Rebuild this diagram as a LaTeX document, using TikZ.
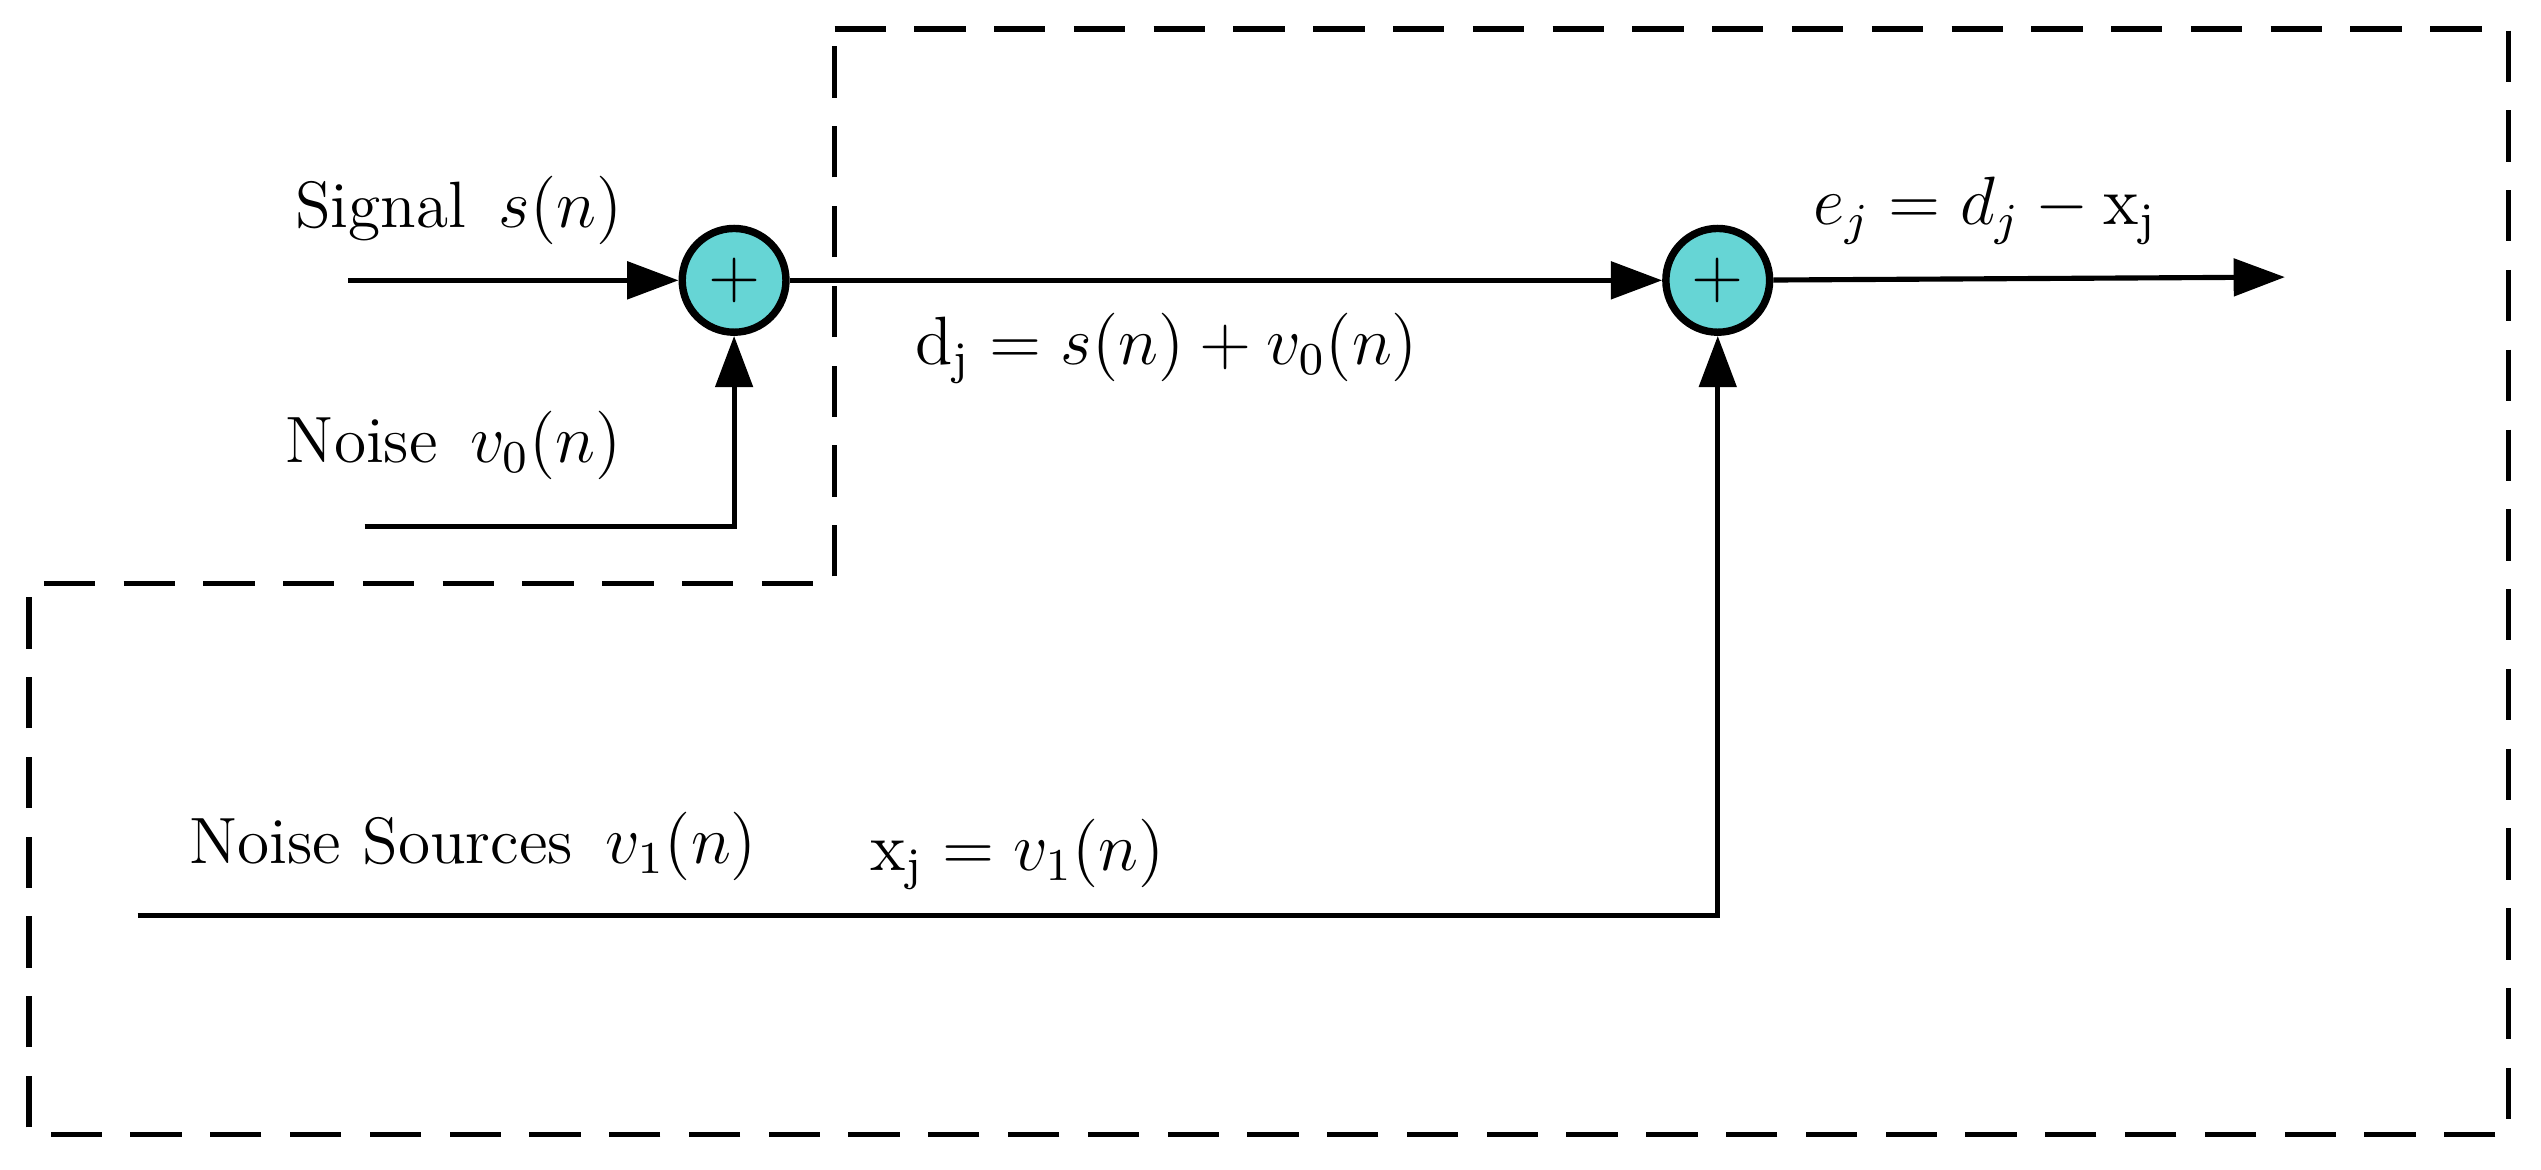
\documentclass[tikz,border=0pt]{standalone}
\usetikzlibrary{arrows.meta}
\begin{document}
\begin{tikzpicture}[x=0.01cm,y=-0.01cm,
  wire/.style={line width=0.9pt},
  arr/.style={wire,-{Triangle[length=9pt,width=6.5pt]}},
  sum/.style={circle,draw,line width=1.3pt,fill=teal!55!cyan!60!white,minimum size=0.64cm,inner sep=0pt,font=\fontsize{12}{12}\selectfont},
  lbl/.style={font=\fontsize{11.5}{13}\selectfont}]
\useasboundingbox (0,0) rectangle (1568,722);
\draw[line width=1pt,dash pattern=on 9pt off 5pt] (515,18) -- (1548,18) -- (1548,700) -- (18,700) -- (18,360) -- (515,360) -- cycle;
\node[sum] (s1) at (453,173) {$+$};
\node[sum] (s2) at (1060,173) {$+$};
\coordinate (sig) at (215,173);
\coordinate (noi) at (225,325);
\coordinate (noic) at (453,325);
\coordinate (ns) at (85,565);
\coordinate (nsc) at (1060,565);
\coordinate (out) at (1410,171);
\draw[arr] (sig) -- (s1);
\draw[arr] (noi) -- (noic) -- (s1);
\draw[arr] (s1) -- (s2);
\draw[arr] (s2) -- (out);
\draw[arr] (ns) -- (nsc) -- (s2);
\node[lbl] (l1) at (283,130) {Signal\, $s(n)$};
\node[lbl] (l2) at (280,275) {Noise\, $v_0(n)$};
\node[lbl] (l3) at (720,215) {$\mathrm{d_j}=s(n)+v_0(n)$};
\node[lbl] (l4) at (1225,130) {$e_j=d_j-\mathrm{x_j}$};
\node[lbl] (l5) at (292,522) {Noise Sources\, $v_1(n)$};
\node[lbl] (l6) at (628,527) {$\mathrm{x_j}=v_1(n)$};
\end{tikzpicture}
\end{document}
